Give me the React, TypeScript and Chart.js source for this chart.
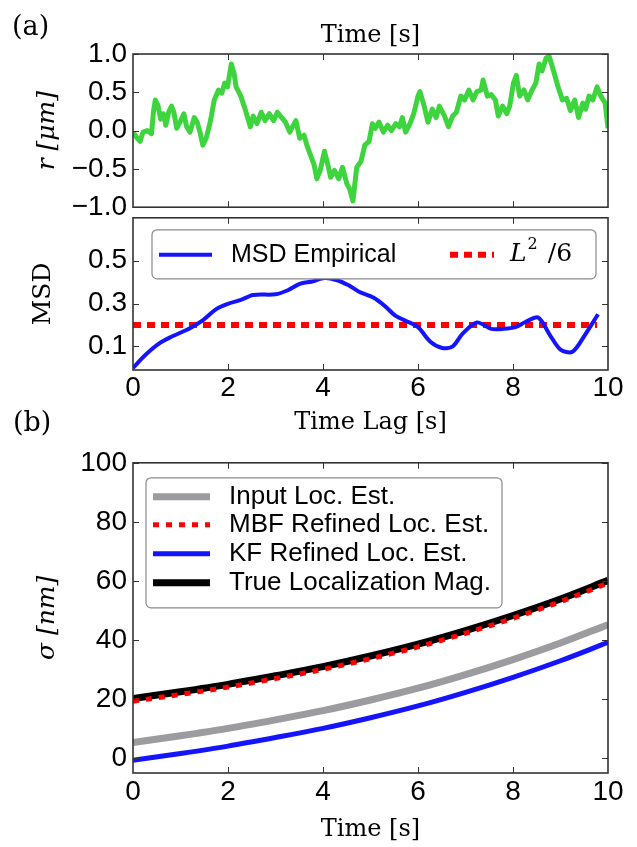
import React, { useEffect, useRef } from 'react';
import { Chart, registerables } from 'chart.js';

Chart.register(...registerables);

// ---------- Panel (a) top: trajectory ----------
const timeS = [
  0.00, 0.09, 0.15, 0.21, 0.30, 0.39, 0.43, 0.47, 0.53, 0.58,
  0.64, 0.69, 0.75, 0.81, 0.86, 0.92, 0.99, 1.07, 1.13, 1.20,
  1.29, 1.35, 1.41, 1.47, 1.54, 1.61, 1.65, 1.71, 1.80, 1.87,
  1.93, 1.99, 2.07, 2.13, 2.17, 2.27, 2.36, 2.47, 2.53, 2.61,
  2.70, 2.78, 2.87, 2.96, 3.04, 3.13, 3.21, 3.30, 3.34, 3.43,
  3.51, 3.60, 3.66, 3.73, 3.81, 3.87, 3.94, 4.03, 4.10, 4.16,
  4.24, 4.33, 4.41, 4.50, 4.56, 4.63, 4.71, 4.80, 4.88, 4.97,
  5.04, 5.10, 5.18, 5.27, 5.36, 5.44, 5.53, 5.61, 5.67, 5.74,
  5.83, 5.91, 6.00, 6.04, 6.13, 6.21, 6.30, 6.38, 6.45, 6.56,
  6.64, 6.73, 6.81, 6.90, 6.98, 7.07, 7.16, 7.24, 7.33, 7.37,
  7.46, 7.54, 7.63, 7.69, 7.78, 7.87, 7.93, 8.01, 8.07, 8.14,
  8.23, 8.31, 8.40, 8.48, 8.55, 8.61, 8.70, 8.76, 8.83, 8.95,
  9.04, 9.13, 9.21, 9.30, 9.38, 9.47, 9.53, 9.60, 9.68, 9.77,
  9.85, 9.94, 10.00,
];
const rValues = [
  -0.02, -0.10, -0.14, -0.02, 0.00, -0.04, 0.24, 0.40, 0.32, 0.15,
  0.22, 0.07, 0.24, 0.32, 0.24, 0.03, 0.11, 0.22, 0.05, -0.02,
  0.17, 0.11, -0.02, -0.19, -0.10, 0.07, 0.19, 0.40, 0.53, 0.49,
  0.62, 0.57, 0.87, 0.74, 0.57, 0.45, 0.28, 0.05, 0.19, 0.09,
  0.24, 0.13, 0.22, 0.13, 0.24, 0.17, 0.11, -0.02, 0.03, 0.13,
  -0.10, -0.06, -0.19, -0.31, -0.44, -0.63, -0.52, -0.27, -0.44, -0.61,
  -0.52, -0.63, -0.48, -0.69, -0.76, -0.92, -0.48, -0.40, -0.19, -0.14,
  0.09, 0.03, 0.11, -0.02, 0.07, 0.00, 0.09, 0.05, 0.17, -0.02,
  0.09, 0.22, 0.45, 0.51, 0.32, 0.11, 0.28, 0.17, 0.32, 0.19,
  0.05, 0.19, 0.24, 0.45, 0.40, 0.53, 0.40, 0.51, 0.53, 0.66,
  0.45, 0.47, 0.40, 0.19, 0.32, 0.22, 0.32, 0.62, 0.72, 0.45,
  0.53, 0.40, 0.53, 0.62, 0.87, 0.78, 0.95, 0.97, 0.83, 0.57,
  0.40, 0.42, 0.26, 0.40, 0.17, 0.36, 0.28, 0.45, 0.40, 0.57,
  0.45, 0.36, 0.03,
];
const rTicks = [-1, -0.5, 0, 0.5, 1];

// ---------- Panel (a) bottom: MSD ----------
const lagS = [
  0, 0.26, 0.56, 0.81, 1.20, 1.46, 1.76, 2.01, 2.27, 2.53,
  3.00, 3.26, 3.51, 3.77, 4.03, 4.28, 4.54, 4.76, 5.06, 5.31,
  5.53, 5.74, 6.00, 6.26, 6.51, 6.73, 6.94, 7.24, 7.54, 7.80,
  8.05, 8.27, 8.53, 8.78, 9.00, 9.25, 9.51, 9.79,
];
const msdValues = [
  0.00, 0.06, 0.115, 0.145, 0.185, 0.22, 0.275, 0.30, 0.317, 0.34,
  0.343, 0.362, 0.392, 0.403, 0.419, 0.41, 0.385, 0.355, 0.328, 0.287,
  0.242, 0.22, 0.19, 0.122, 0.093, 0.10, 0.16, 0.212, 0.182, 0.182,
  0.19, 0.215, 0.235, 0.152, 0.085, 0.075, 0.152, 0.25,
];
const refLagS = [0, 9.77];
const refValues = [0.2, 0.2];
const msdTicks = [0.1, 0.3, 0.5];
const xTicks = [0, 2, 4, 6, 8, 10];

// ---------- Panel (b): sigma ----------
const sigmaTime = [0, 1, 2, 3, 4, 5, 6, 7, 8, 9, 10];
const inputLoc = [5.3, 7.6, 10.1, 13.0, 16.1, 19.7, 23.7, 28.3, 33.4, 39.0, 45.2];
const mbfLoc = [19.3, 21.6, 24.1, 27.0, 30.1, 33.7, 37.7, 42.3, 47.4, 53.0, 59.3];
const kfLoc = [-0.7, 1.6, 4.1, 7.0, 10.1, 13.7, 17.7, 22.3, 27.4, 33.0, 39.2];
const trueLoc = [20.2, 22.5, 25.0, 27.9, 31.0, 34.6, 38.6, 43.2, 48.3, 53.9, 60.2];
const sigmaTicks = [0, 20, 40, 60, 80, 100];

const GREEN = '#3dd43d';
const BLUE = '#1414ff';
const GRAY = '#9b9ba0';
const RED = '#ff0000';

const TICK_FONT = { family: '"Liberation Sans", Arial, sans-serif', size: 28 };
const LEGEND_FONT = '25px "Liberation Sans", Arial, sans-serif';
const SERIF = '"DejaVu Serif", serif';

const zip = (xs: number[], ys: number[]) => xs.map((x, i) => ({ x, y: ys[i] }));

const framePlugin = {
  id: 'frame',
  afterDatasetsDraw(chart: any, _a: any, opts: any) {
    const { ctx, chartArea } = chart;
    const { left, right, top, bottom } = chartArea;
    const xs = chart.scales.x;
    const ys = chart.scales.y;
    ctx.save();
    ctx.strokeStyle = '#333';
    ctx.lineWidth = 1;
    const L = 6;
    ctx.beginPath();
    for (const v of opts.xTicks || []) {
      const p = Math.round(xs.getPixelForValue(v)) + 0.5;
      ctx.moveTo(p, bottom); ctx.lineTo(p, bottom - L);
      ctx.moveTo(p, top); ctx.lineTo(p, top + L);
    }
    for (const v of opts.yTicks || []) {
      const p = Math.round(ys.getPixelForValue(v)) + 0.5;
      ctx.moveTo(left, p); ctx.lineTo(left + L, p);
      ctx.moveTo(right, p); ctx.lineTo(right - L, p);
    }
    ctx.stroke();
    ctx.lineWidth = 1.6;
    ctx.strokeRect(left, top, right - left, bottom - top);
    ctx.restore();
  },
};

function roundRect(ctx: CanvasRenderingContext2D, x: number, y: number, w: number, h: number, r: number) {
  ctx.beginPath();
  ctx.moveTo(x + r, y);
  ctx.lineTo(x + w - r, y);
  ctx.arcTo(x + w, y, x + w, y + r, r);
  ctx.lineTo(x + w, y + h - r);
  ctx.arcTo(x + w, y + h, x + w - r, y + h, r);
  ctx.lineTo(x + r, y + h);
  ctx.arcTo(x, y + h, x, y + h - r, r);
  ctx.lineTo(x, y + r);
  ctx.arcTo(x, y, x + r, y, r);
  ctx.closePath();
}

const boxLegendPlugin = {
  id: 'boxLegend',
  afterDraw(chart: any, _a: any, opts: any) {
    if (!opts || !opts.items) return;
    const { ctx, chartArea } = chart;
    const x0 = chartArea.left + opts.x;
    const y0 = chartArea.top + opts.y;
    ctx.save();
    roundRect(ctx, x0, y0, opts.w, opts.h, 5);
    ctx.fillStyle = '#ffffff';
    ctx.fill();
    ctx.strokeStyle = '#8a8a8a';
    ctx.lineWidth = 1.2;
    ctx.stroke();
    for (const it of opts.items) {
      const ds = chart.data.datasets[it.index];
      const cy = y0 + it.dy;
      ctx.beginPath();
      ctx.strokeStyle = ds.borderColor;
      ctx.lineWidth = ds.borderWidth;
      ctx.lineCap = 'butt';
      ctx.setLineDash(ds.borderDash || []);
      ctx.moveTo(x0 + it.sx0, cy);
      ctx.lineTo(x0 + it.sx1, cy);
      ctx.stroke();
      ctx.setLineDash([]);
      ctx.fillStyle = '#000';
      ctx.textBaseline = 'middle';
      ctx.textAlign = 'left';
      const label: string = ds.label;
      let tx = x0 + it.tx;
      if (label.includes('^')) {
        const base = label.split('^')[0];
        const sup = label.split('^')[1].charAt(0);
        const rest = label.split('^')[1].slice(1);
        ctx.font = `italic 25px ${SERIF}`;
        ctx.fillText(base, tx, cy);
        tx += ctx.measureText(base).width + 1;
        ctx.font = `16px ${SERIF}`;
        ctx.fillText(sup, tx, cy - 10);
        tx += ctx.measureText(sup).width + 2;
        ctx.font = `25px ${SERIF}`;
        ctx.fillText(rest, tx, cy);
      } else {
        ctx.font = opts.font || LEGEND_FONT;
        ctx.fillText(label, tx, cy);
      }
    }
    ctx.restore();
  },
};

const fmt1 = (v: number) => (Math.abs(v) < 1e-9 ? '0.0' : v.toFixed(1).replace('-', '\u2212'));

function baseOpts(extra: any) {
  return {
    animation: false,
    responsive: false,
    maintainAspectRatio: false,
    events: [],
    ...extra,
  };
}

function yAxis(min: number, max: number, ticks: number[], fmt: (v: number) => string, title: string, italic: boolean, center: number, width: number) {
  return {
    type: 'linear',
    position: 'left',
    min,
    max,
    afterBuildTicks: (s: any) => { s.ticks = ticks.map((v) => ({ value: v })); },
    afterFit: (s: any) => { s.width = width; },
    ticks: { font: TICK_FONT, color: '#000', padding: 6, callback: (v: any) => fmt(Number(v)) },
    grid: { display: false, drawTicks: false },
    border: { display: false },
    title: {
      display: true,
      text: title,
      color: '#000',
      font: { family: SERIF, size: 25, style: italic ? 'italic' : 'normal', lineHeight: 1.2 },
      padding: { top: center - 15, bottom: 0 },
    },
  };
}

function xAxisBottom(height: number, tickPad: number, title: string, titlePadBottom: number) {
  return {
    type: 'linear',
    position: 'bottom',
    min: 0,
    max: 10,
    afterBuildTicks: (s: any) => { s.ticks = xTicks.map((v) => ({ value: v })); },
    afterFit: (s: any) => { s.height = height; },
    ticks: { font: TICK_FONT, color: '#000', padding: tickPad, maxRotation: 0, callback: (v: any) => String(v) },
    grid: { display: false, drawTicks: false },
    border: { display: false },
    title: {
      display: true,
      text: title,
      color: '#000',
      font: { family: SERIF, size: 24, lineHeight: 1.2 },
      padding: { top: 0, bottom: titlePadBottom },
    },
  };
}

export default function App() {
  const c1 = useRef<HTMLCanvasElement>(null);
  const c2 = useRef<HTMLCanvasElement>(null);
  const c3 = useRef<HTMLCanvasElement>(null);

  useEffect(() => {
    const charts: Chart[] = [];

    // Top: trajectory
    charts.push(new Chart(c1.current as HTMLCanvasElement, {
      type: 'line',
      data: {
        datasets: [{
          label: 'r',
          data: zip(timeS, rValues),
          borderColor: GREEN,
          borderWidth: 5,
          pointRadius: 0,
          tension: 0,
          borderJoinStyle: 'round',
        }],
      },
      options: baseOpts({
        layout: { padding: { left: 0, right: 29, top: 0, bottom: 19 } },
        plugins: {
          legend: { display: false },
          tooltip: { enabled: false },
          frame: { xTicks: [2, 4, 6, 8], yTicks: rTicks },
        },
        scales: {
          x: {
            type: 'linear',
            position: 'top',
            min: 0,
            max: 10,
            afterFit: (s: any) => { s.height = 54; },
            ticks: { display: false },
            grid: { display: false, drawTicks: false },
            border: { display: false },
            title: {
              display: true,
              text: 'Time [s]',
              color: '#000',
              font: { family: SERIF, size: 24, lineHeight: 1.2 },
              padding: { top: 21, bottom: 0 },
            },
          },
          y: yAxis(-1, 1, rTicks, fmt1, 'r [\u03bcm]', true, 47, 133),
        },
      }),
      plugins: [framePlugin],
    } as any));

    // Middle: MSD
    charts.push(new Chart(c2.current as HTMLCanvasElement, {
      type: 'line',
      data: {
        datasets: [
          {
            label: 'MSD Empirical',
            data: zip(lagS, msdValues),
            borderColor: BLUE,
            borderWidth: 4,
            pointRadius: 0,
            tension: 0.3,
            borderJoinStyle: 'round',
          },
          {
            label: 'L^2 /6',
            data: zip(refLagS, refValues),
            borderColor: RED,
            borderWidth: 6,
            borderDash: [8, 6],
            pointRadius: 0,
            borderCapStyle: 'butt',
          },
        ],
      },
      options: baseOpts({
        layout: { padding: { left: 0, right: 29, top: 16, bottom: 0 } },
        plugins: {
          legend: { display: false },
          tooltip: { enabled: false },
          frame: { xTicks: [2, 4, 6, 8], yTicks: msdTicks },
          boxLegend: {
            x: 19, y: 12, w: 444, h: 49,
            items: [
              { index: 0, sx0: 7, sx1: 60, tx: 79, dy: 25 },
              { index: 1, sx0: 298, sx1: 342, tx: 358, dy: 25 },
            ],
          },
        },
        scales: {
          x: xAxisBottom(70, 1, 'Time Lag [s]', 3),
          y: yAxis(-0.01, 0.7, msdTicks, fmt1, 'MSD', false, 43, 133),
        },
      }),
      plugins: [framePlugin, boxLegendPlugin],
    } as any));

    // Bottom: sigma
    charts.push(new Chart(c3.current as HTMLCanvasElement, {
      type: 'line',
      data: {
        datasets: [
          {
            label: 'Input Loc. Est.',
            data: zip(sigmaTime, inputLoc),
            borderColor: GRAY,
            borderWidth: 7,
            pointRadius: 0,
            cubicInterpolationMode: 'monotone',
            order: 3,
          },
          {
            label: 'MBF Refined Loc. Est.',
            data: zip(sigmaTime, mbfLoc),
            borderColor: RED,
            borderWidth: 5,
            borderDash: [6, 7],
            borderCapStyle: 'butt',
            pointRadius: 0,
            cubicInterpolationMode: 'monotone',
            order: 0,
          },
          {
            label: 'KF Refined Loc. Est.',
            data: zip(sigmaTime, kfLoc),
            borderColor: BLUE,
            borderWidth: 5,
            pointRadius: 0,
            cubicInterpolationMode: 'monotone',
            order: 2,
          },
          {
            label: 'True Localization Mag.',
            data: zip(sigmaTime, trueLoc),
            borderColor: '#000000',
            borderWidth: 7,
            pointRadius: 0,
            cubicInterpolationMode: 'monotone',
            order: 1,
          },
        ],
      },
      options: baseOpts({
        layout: { padding: { left: 0, right: 29, top: 17, bottom: 0 } },
        plugins: {
          legend: { display: false },
          tooltip: { enabled: false },
          frame: { xTicks: [2, 4, 6, 8], yTicks: sigmaTicks },
          boxLegend: {
            x: 13, y: 15, w: 356, h: 130,
            font: '26px "Liberation Sans", Arial, sans-serif',
            items: [
              { index: 0, sx0: 7, sx1: 64, tx: 83, dy: 19 },
              { index: 1, sx0: 7, sx1: 64, tx: 83, dy: 47 },
              { index: 2, sx0: 7, sx1: 64, tx: 83, dy: 76 },
              { index: 3, sx0: 7, sx1: 64, tx: 83, dy: 105 },
            ],
          },
        },
        scales: {
          x: xAxisBottom(74, 2, 'Time [s]', 3),
          y: yAxis(-5, 100, sigmaTicks, (v) => String(v), '\u03c3 [nm]', true, 47, 133),
        },
      }),
      plugins: [framePlugin, boxLegendPlugin],
    } as any));

    return () => { charts.forEach((c) => c.destroy()); };
  }, []);

  const labelStyle: React.CSSProperties = {
    position: 'absolute',
    fontFamily: SERIF,
    fontSize: 27,
    lineHeight: 1,
    color: '#000',
  };

  return (
    <div style={{ position: 'absolute', left: 0, top: 0, width: 637, height: 847, background: '#fff', overflow: 'hidden' }}>
      <canvas ref={c1} width={637} height={230} style={{ position: 'absolute', left: 0, top: 0 }} />
      <canvas ref={c2} width={637} height={245} style={{ position: 'absolute', left: 0, top: 195 }} />
      <canvas ref={c3} width={637} height={407} style={{ position: 'absolute', left: 0, top: 440 }} />
      <div style={{ ...labelStyle, left: 12, top: 12 }}>(a)</div>
      <div style={{ ...labelStyle, left: 13, top: 408 }}>(b)</div>
    </div>
  );
}
